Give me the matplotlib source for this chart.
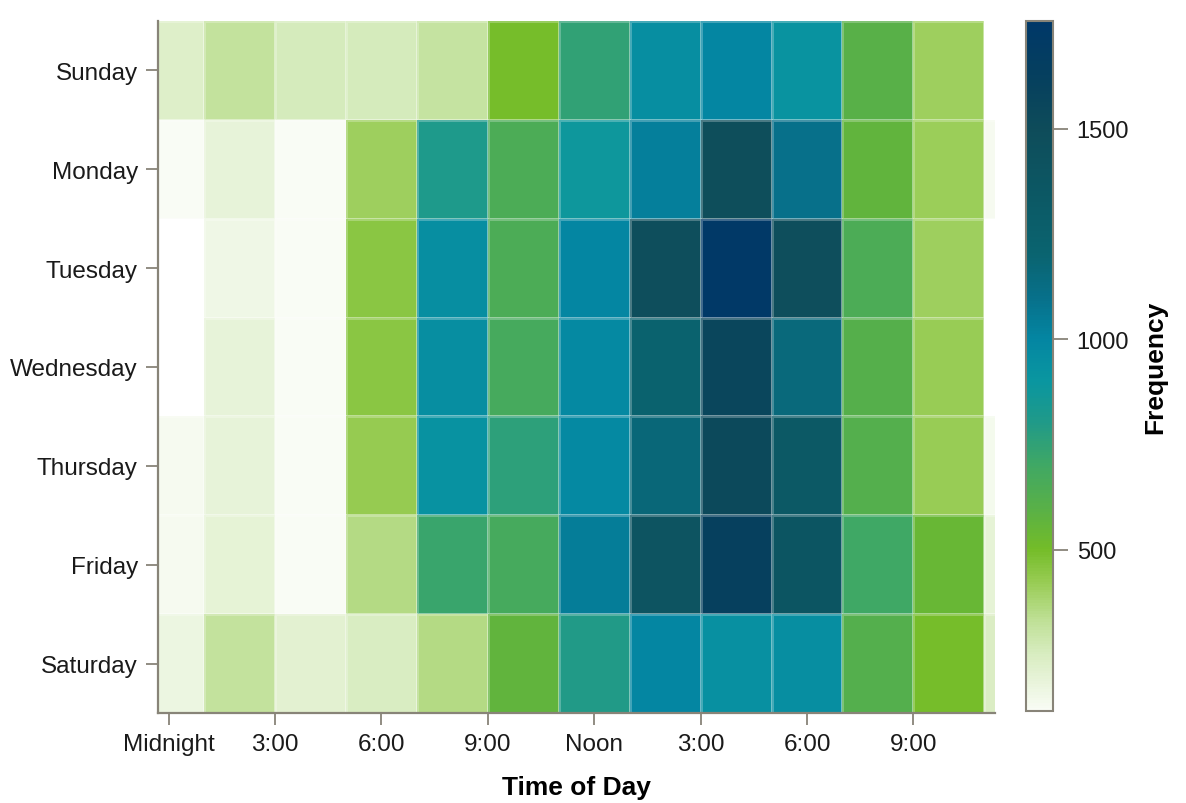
import numpy as np
import matplotlib.pyplot as plt
from matplotlib.colors import LinearSegmentedColormap, Normalize

plt.rcParams['font.family'] = ['Liberation Sans', 'DejaVu Sans']

days = ['Sunday', 'Monday', 'Tuesday', 'Wednesday', 'Thursday', 'Friday', 'Saturday']
hours = [0, 2, 4, 6, 8, 10, 12, 14, 16, 18, 20, 22, 24]

sunday    = [230, 320, 260, 260, 310, 500,  750,  950, 1000,  920, 600, 410, 112]
monday    = [122, 190, 122, 410, 810, 650,  880, 1030, 1480, 1100, 570, 415, 130]
tuesday   = [100, 160, 118, 450, 950, 650, 1000, 1470, 1740, 1470, 650, 410, 105]
wednesday = [100, 190, 118, 450, 950, 680,  980, 1220, 1560, 1160, 610, 420, 108]
thursday  = [135, 190, 120, 430, 930, 760,  980, 1170, 1530, 1330, 620, 420, 140]
friday    = [135, 195, 118, 360, 720, 680, 1040, 1400, 1620, 1380, 700, 540, 200]
saturday  = [170, 320, 210, 250, 360, 570,  800, 1000,  940,  950, 620, 500, 240]

tick_hours = [0, 3, 6, 9, 12, 15, 18, 21]
tick_names = ['Midnight', '3:00', '6:00', '9:00', 'Noon', '3:00', '6:00', '9:00']
cbar_ticks = [500, 1000, 1500]

vmin, vmax = 117, 1756

freq = np.array([sunday, monday, tuesday, wednesday, thursday, friday, saturday], dtype=float)

# colour ramp
anchors = [(117, '#f9fcf5'), (250, '#d8ecc0'), (330, '#bfe096'), (420, '#98cc54'),
           (500, '#74bc28'), (600, '#58b048'), (700, '#40a864'), (800, '#209a88'),
           (900, '#0a96a0'), (1000, '#0486a2'), (1100, '#07708a'), (1200, '#0a6470'),
           (1350, '#0c5864'), (1500, '#0e4c5a'), (1620, '#06405e'), (1756, '#003868')]
cmap = LinearSegmentedColormap.from_list(
    'freq', [((v - vmin) / (vmax - vmin), c) for v, c in anchors])
cmap.set_under('white')
norm = Normalize(vmin=vmin, vmax=vmax)

W, H = 1186, 804
fig = plt.figure(figsize=(W / 100, H / 100), dpi=100)
ax = fig.add_axes([158 / W, 1 - 714 / H, (995 - 158) / W, (714 - 22) / H])
cax = fig.add_axes([1026 / W, 1 - 712 / H, 27 / W, 690 / H])

hx = np.array(hours, dtype=float)
xedges = np.append(hx - 1, hx[-1] + 1)
yedges = np.arange(len(days) + 1) - 0.5
mesh = ax.pcolormesh(xedges, yedges, freq, cmap=cmap, norm=norm,
                     edgecolors=(1, 1, 1, 0.25), linewidth=0.8)

ax.set_xlim(-0.3, 23.3)
ax.set_ylim(len(days) - 0.5, -0.5)
ax.set_xticks(tick_hours)
ax.set_xticklabels(tick_names)
ax.set_yticks(range(len(days)))
ax.set_yticklabels(days)

spine_c = '#888478'
for s in ['top', 'right']:
    ax.spines[s].set_visible(False)
for s in ['left', 'bottom']:
    ax.spines[s].set_color(spine_c)
    ax.spines[s].set_linewidth(1.6)
ax.tick_params(axis='both', length=8.5, width=1.3, color=spine_c,
               labelsize=17.5, labelcolor='#1a1a1a', pad=6)
ax.set_xlabel('Time of Day', fontsize=19, fontweight='bold', labelpad=14)

cb = fig.colorbar(mesh, cax=cax)
cb.set_ticks(cbar_ticks)
cb.outline.set_edgecolor(spine_c)
cb.outline.set_linewidth(1.5)
cax.tick_params(length=11, width=1.3, color=spine_c, labelsize=17,
                labelcolor='#1a1a1a', pad=6)
cb.set_label('Frequency', fontsize=19, fontweight='bold', labelpad=10)

plt.savefig('out.png', dpi=100)
